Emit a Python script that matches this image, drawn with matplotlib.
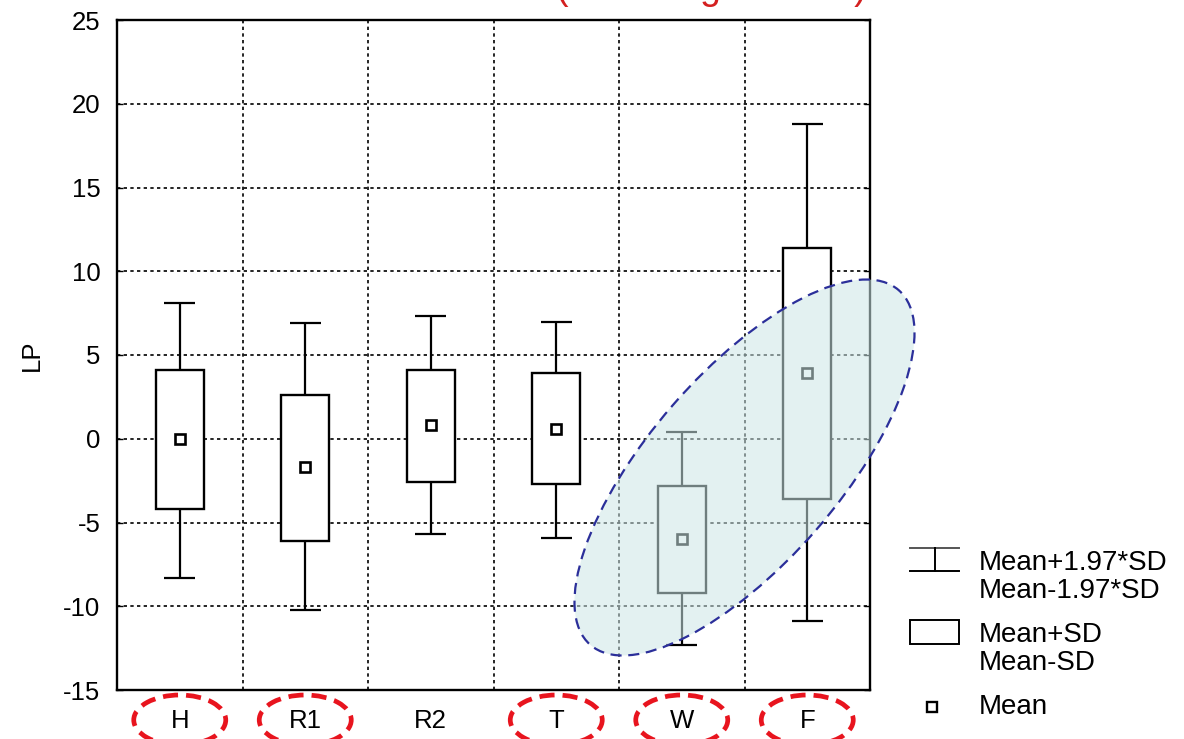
import matplotlib
matplotlib.use("Agg")
import matplotlib.pyplot as plt
from matplotlib.patches import Ellipse, Rectangle
from matplotlib.lines import Line2D
import numpy as np

plt.rcParams['font.family'] = ['Liberation Sans', 'DejaVu Sans']

# ---- data ----
categories = ["H", "R1", "R2", "T", "W", "F"]
means      = [0.0, -1.7, 0.8, 0.6, -6.0, 3.9]
sd_upper   = [4.1, 2.6, 4.1, 3.9, -2.8, 11.4]      # Mean+SD
sd_lower   = [-4.2, -6.1, -2.6, -2.7, -9.2, -3.6]  # Mean-SD
wh_upper   = [8.1, 6.9, 7.3, 7.0, 0.4, 18.8]       # Mean+1.97*SD
wh_lower   = [-8.3, -10.2, -5.7, -5.9, -12.3, -10.9]  # Mean-1.97*SD
yticks     = [-15, -10, -5, 0, 5, 10, 15, 20, 25]
circled    = ["H", "R1", "T", "W", "F"]
legend_labels = ["Mean+1.97*SD\nMean-1.97*SD", "Mean+SD\nMean-SD", "Mean"]

W, H = 1184, 739
fig = plt.figure(figsize=(W / 100, H / 100), dpi=100)

def fx(px):
    return px / W

def fy(py):
    return 1 - py / H

ax_w = fx(870) - fx(117)
ax = fig.add_axes([fx(117), fy(690), ax_w, fy(20) - fy(690)])
ax.set_xlim(0, len(categories))
ax.set_ylim(-15, 25)

xpos = np.arange(len(categories)) + 0.5

# grid
for gx in range(1, len(categories)):
    ax.axvline(gx, color='black', lw=1.2, ls=(0, (2, 2)), zorder=1)
for gy in yticks[1:-1]:
    ax.axhline(gy, color='black', lw=1.2, ls=(0, (2, 2)), zorder=1)

box_w = 0.38
cap_w = 0.25
for x, m, su, sl, wu, wl in zip(xpos, means, sd_upper, sd_lower, wh_upper, wh_lower):
    ax.vlines(x, su, wu, color='black', lw=1.6, zorder=2)
    ax.vlines(x, wl, sl, color='black', lw=1.6, zorder=2)
    ax.hlines([wu, wl], x - cap_w / 2, x + cap_w / 2, color='black', lw=1.6, zorder=2)
ax.bar(xpos, np.array(sd_upper) - np.array(sd_lower), bottom=sd_lower, width=box_w,
       facecolor='white', edgecolor='black', linewidth=1.7, zorder=3)
ax.plot(xpos, means, ls='none', marker='s', ms=7, mfc='white', mec='black', mew=1.9, zorder=4)

ax.set_yticks(yticks)
ax.set_yticklabels([str(t) for t in yticks], fontsize=18.5)
ax.set_xticks(xpos)
ax.set_xticklabels(categories, fontsize=18.5)
ax.tick_params(axis='y', direction='in', length=4, width=1, pad=12, right=True)
ax.tick_params(axis='x', length=0, pad=14)
ax.set_ylabel("LP", fontsize=18.5)
ax.yaxis.set_label_coords((44 - 117) / 753, 0.5)
for s in ax.spines.values():
    s.set_linewidth(1.7)
    s.set_color('black')

# ---- red dashed ellipses around labels ----
fig.canvas.draw()
for cat, x in zip(categories, xpos):
    if cat in circled:
        dx, _ = ax.transData.transform((x, 0))
        e = Ellipse((dx / 100, (H - 720) / 100), 0.92, 0.50,
                    transform=fig.dpi_scale_trans, fill=False,
                    edgecolor='#e8141e', lw=3.4, ls=(0, (3.2, 1.7)), clip_on=False)
        fig.add_artist(e)

# ---- blue highlight ellipse ----
hl = Ellipse((7.445, (H - 467.5) / 100), 4.7, 1.9, angle=49,
             transform=fig.dpi_scale_trans,
             facecolor=(0.80, 0.90, 0.90, 0.55), edgecolor='#2b2f9a',
             lw=1.6, ls=(0, (5, 3)), clip_on=False, zorder=5)
fig.add_artist(hl)

# ---- title fragment ----
fig.text(fx(711), fy(-1), "(sounding derived)", color='#d42020', fontsize=27,
         ha='center', va='baseline')

# ---- legend ----
lc = 'black'
fig.add_artist(Line2D([fx(910), fx(959)], [fy(548), fy(548)], color='#555555', lw=1.4))
fig.add_artist(Line2D([fx(910), fx(959)], [fy(571), fy(571)], color=lc, lw=1.4))
fig.add_artist(Line2D([fx(935), fx(935)], [fy(548), fy(571)], color=lc, lw=1.4))
fig.add_artist(Rectangle((fx(910), fy(644)), fx(959) - fx(910), fy(620) - fy(644),
                         transform=fig.transFigure, facecolor='white', edgecolor=lc, lw=1.4))
fig.add_artist(Line2D([fx(932)], [fy(707)], ls='none', marker='s', ms=6.5,
                      mfc='white', mec=lc, mew=1.7))
fig.text(fx(979), fy(577), legend_labels[0], fontsize=20, ha='left', va='center',
         linespacing=1.1)
fig.text(fx(979), fy(649), legend_labels[1], fontsize=20, ha='left', va='center',
         linespacing=1.1)
fig.text(fx(979), fy(707), legend_labels[2], fontsize=20, ha='left', va='center')

fig.savefig("out.png", dpi=100)
